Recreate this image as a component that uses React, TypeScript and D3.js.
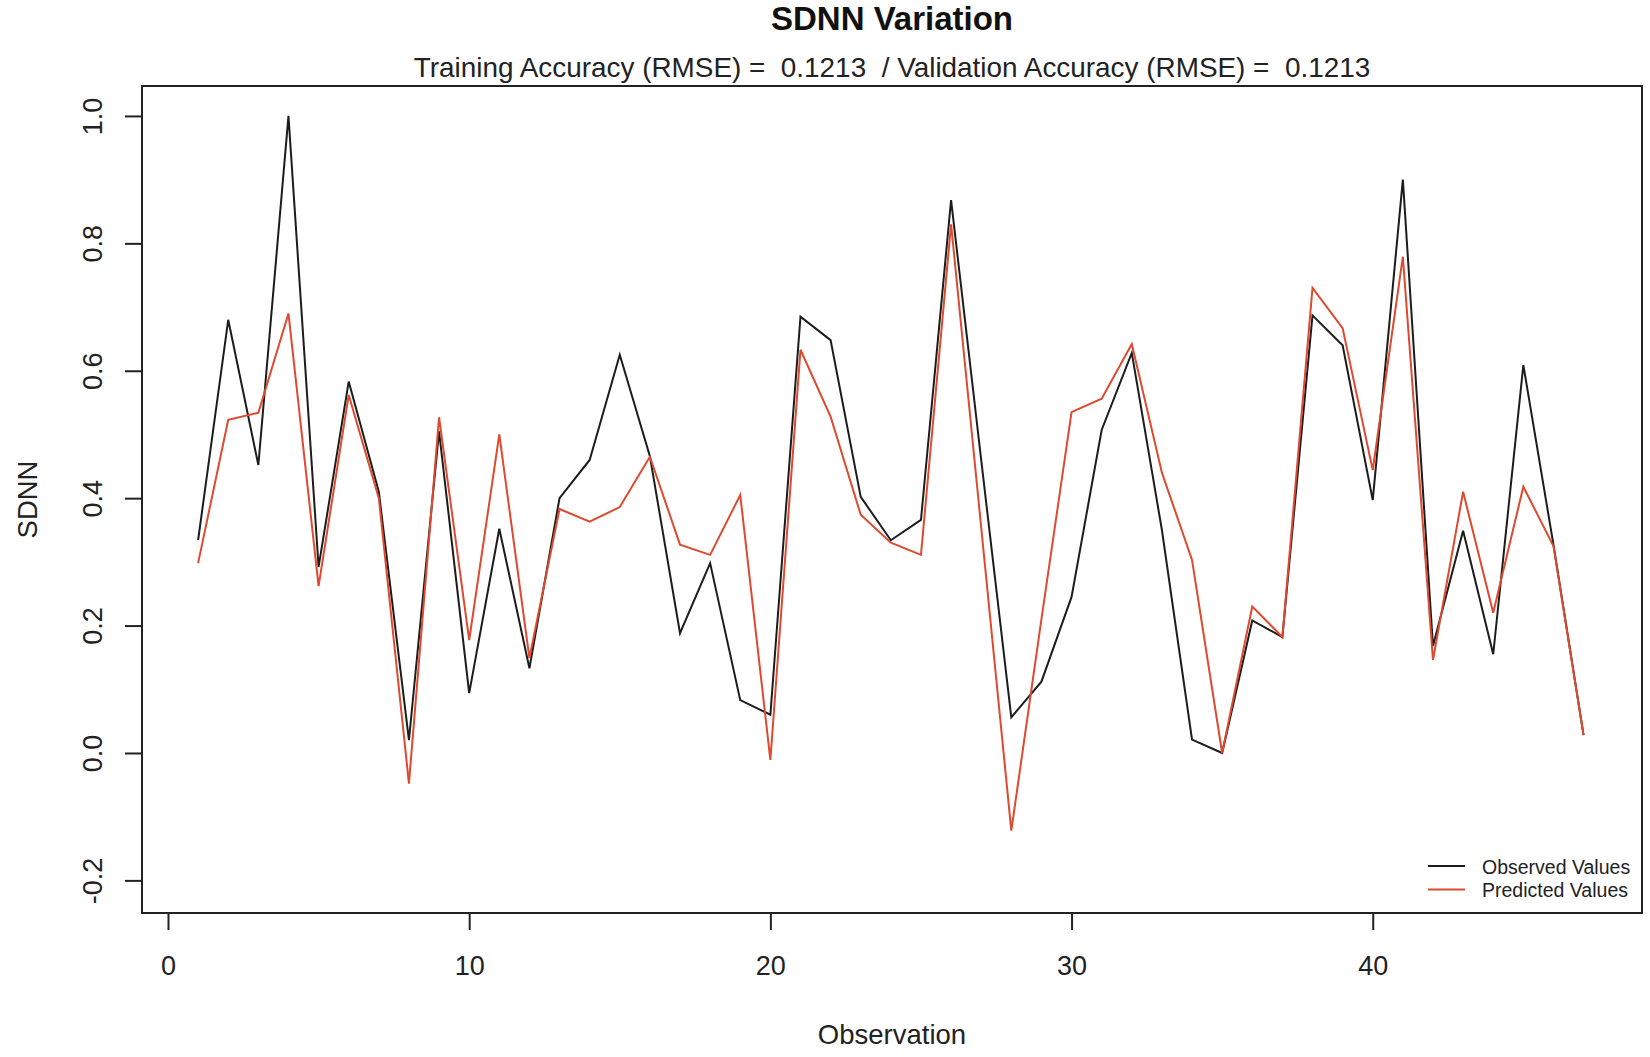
// @ts-nocheck

import { useEffect, useRef } from "react";
import * as d3 from "d3";

const observations = d3.range(1, 48);

const observedValues = [
  0.334, 0.68, 0.452, 1.0, 0.292, 0.583, 0.41, 0.02, 0.505, 0.094,
  0.352, 0.133, 0.4, 0.46, 0.625, 0.466, 0.188, 0.298, 0.083, 0.06,
  0.685, 0.648, 0.402, 0.334, 0.366, 0.868, 0.46, 0.056, 0.112, 0.245,
  0.507, 0.628, 0.35, 0.021, 0.0, 0.208, 0.182, 0.687, 0.64, 0.397,
  0.9, 0.168, 0.349, 0.155, 0.609, 0.327, 0.028,
];

const predictedValues = [
  0.298, 0.523, 0.534, 0.69, 0.262, 0.562, 0.4, -0.048, 0.527, 0.177,
  0.5, 0.149, 0.383, 0.363, 0.386, 0.465, 0.327, 0.311, 0.405, -0.011,
  0.633, 0.528, 0.374, 0.33, 0.311, 0.83, 0.354, -0.122, 0.21, 0.535,
  0.556, 0.642, 0.44, 0.303, 0.0, 0.23, 0.182, 0.73, 0.667, 0.444,
  0.779, 0.146, 0.41, 0.22, 0.418, 0.325, 0.028,
];

const xTicks = [0, 10, 20, 30, 40];
const yTicks = [-0.2, 0, 0.2, 0.4, 0.6, 0.8, 1.0];

const legendLabels = ["Observed Values", "Predicted Values"];
const seriesColors = ["#1c1c1c", "#de4a2f"];

const App = () => {
  const ref = useRef(null);

  useEffect(() => {
    const width = 1650;
    const height = 1057;
    const box = { left: 142, right: 1642, top: 86, bottom: 913 };
    const font = "'Liberation Sans', Arial, Helvetica, sans-serif";

    d3.select(ref.current).selectAll("*").remove();

    const svg = d3
      .select(ref.current)
      .append("svg")
      .attr("width", width)
      .attr("height", height)
      .style("position", "absolute")
      .style("left", 0)
      .style("top", 0)
      .style("background", "#fff")
      .style("font-family", font);

    const x = d3.scaleLinear().domain([-0.863, 48.94]).range([box.left, box.right]);
    const y = d3.scaleLinear().domain([-0.2512, 1.047]).range([box.bottom, box.top]);

    // x axis
    svg
      .append("g")
      .attr("transform", `translate(0, ${box.bottom})`)
      .call(d3.axisBottom(x).tickValues(xTicks).tickSize(17).tickFormat(d3.format("d")))
      .call((g) => g.select(".domain").remove())
      .call((g) => g.selectAll(".tick line").attr("stroke", "#222").attr("stroke-width", 2))
      .call((g) =>
        g
          .selectAll(".tick text")
          .attr("y", 62)
          .attr("dy", 0)
          .attr("fill", "#222")
          .attr("font-size", 27)
          .attr("font-family", font)
      );

    // y axis, labels turned like R's las = 0
    svg
      .append("g")
      .attr("transform", `translate(${box.left}, 0)`)
      .call(
        d3
          .axisLeft(y)
          .tickValues(yTicks)
          .tickSize(17)
          .tickFormat((d) => d.toFixed(1))
      )
      .call((g) => g.select(".domain").remove())
      .call((g) => g.selectAll(".tick line").attr("stroke", "#222").attr("stroke-width", 2))
      .call((g) =>
        g
          .selectAll(".tick text")
          .attr("transform", "rotate(-90)")
          .attr("x", 0)
          .attr("y", -40)
          .attr("dy", 0)
          .attr("text-anchor", "middle")
          .attr("fill", "#222")
          .attr("font-size", 27)
          .attr("font-family", font)
      );

    // series
    const line = d3
      .line()
      .x((d) => x(d[0]))
      .y((d) => y(d[1]));

    [observedValues, predictedValues].forEach((values, i) => {
      svg
        .append("path")
        .datum(observations.map((o, j) => [o, values[j]]))
        .attr("fill", "none")
        .attr("stroke", seriesColors[i])
        .attr("stroke-width", 2)
        .attr("stroke-linejoin", "miter")
        .attr("d", line);
    });

    // plot box
    svg
      .append("rect")
      .attr("x", box.left)
      .attr("y", box.top)
      .attr("width", box.right - box.left)
      .attr("height", box.bottom - box.top)
      .attr("fill", "none")
      .attr("stroke", "#222")
      .attr("stroke-width", 2);

    const cx = (box.left + box.right) / 2;

    svg
      .append("text")
      .attr("x", cx)
      .attr("y", 30)
      .attr("text-anchor", "middle")
      .attr("font-size", 33)
      .attr("font-weight", "bold")
      .attr("fill", "#111")
      .text("SDNN Variation");

    svg
      .append("text")
      .attr("x", cx)
      .attr("y", 77)
      .attr("text-anchor", "middle")
      .attr("font-size", 27.9)
      .attr("fill", "#222")
      .style("white-space", "pre")
      .text("Training Accuracy (RMSE) =  0.1213  / Validation Accuracy (RMSE) =  0.1213");

    svg
      .append("text")
      .attr("x", cx)
      .attr("y", 1044)
      .attr("text-anchor", "middle")
      .attr("font-size", 27.5)
      .attr("fill", "#222")
      .text("Observation");

    svg
      .append("text")
      .attr("transform", `translate(37, ${(box.top + box.bottom) / 2}) rotate(-90)`)
      .attr("text-anchor", "middle")
      .attr("font-size", 27.5)
      .attr("fill", "#222")
      .text("SDNN");

    // legend, bottom right
    const legend = svg.append("g").attr("transform", "translate(1428, 866)");
    legendLabels.forEach((label, i) => {
      const row = legend.append("g").attr("transform", `translate(0, ${i * 23.5})`);
      row
        .append("line")
        .attr("x1", 0)
        .attr("x2", 37)
        .attr("stroke", seriesColors[i])
        .attr("stroke-width", 2);
      row
        .append("text")
        .attr("x", 54)
        .attr("y", 7.5)
        .attr("font-size", 19.5)
        .attr("fill", "#222")
        .text(label);
    });
  }, []);

  return <div ref={ref}></div>;
};

export default App;
